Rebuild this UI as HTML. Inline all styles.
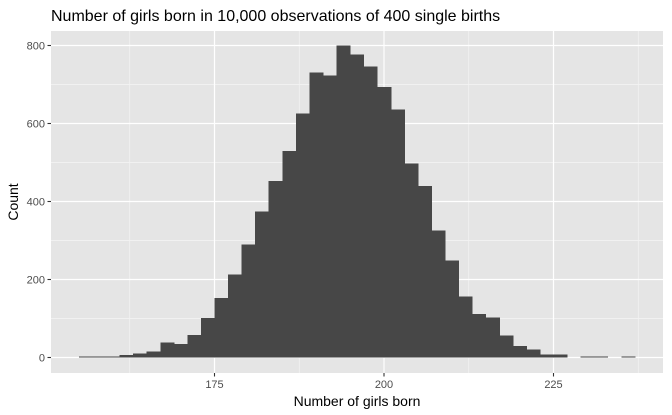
<!DOCTYPE html>
<html><head><meta charset="utf-8"><style>
body{margin:0;background:#fff;font-family:"Liberation Sans",Arial,sans-serif}
svg{display:block}
</style></head><body>
<svg id="chart" width="672" height="415" viewBox="0 0 672 415">
<text x="51" y="21" font-size="16" fill="#000">Number of girls born in 10,000 observations of 400 single births</text>
<rect x="51" y="31" width="612" height="342" fill="#e5e5e5"/>
<g id="grid"></g><g id="bars" shape-rendering="crispEdges"></g><g id="axes"></g>
<text x="357" y="406" font-size="14" text-anchor="middle">Number of girls born</text>
<text transform="translate(18,202) rotate(-90)" font-size="14" text-anchor="middle">Count</text>
</svg>
<script>
const binStarts=[155,157,159,161,163,165,167,169,171,173,175,177,179,181,183,185,187,189,191,193,195,197,199,201,203,205,207,209,211,213,215,217,219,221,223,225,227,229,231,233,235];
const counts=[1,2,2,6,10,15,38,35,58,101,153,213,290,374,453,530,626,731,723,800,777,746,694,636,498,440,326,249,157,112,102,56,30,20,8,8,0,1,1,0,1];
const binWidth=2;
const xTicks=[175,200,225];
const xMinor=[162.5,187.5,212.5,237.5];
const yTicks=[0,200,400,600,800];
const yMinor=[100,300,500,700];
const X=v=>384+(v-200)*6.78;
const Y=v=>357.5-v*0.39;
const NS="http://www.w3.org/2000/svg";
function mk(p,t,a){const e=document.createElementNS(NS,t);for(const k in a)e.setAttribute(k,a[k]);p.appendChild(e);return e;}
const grid=document.getElementById('grid'),bars=document.getElementById('bars'),axes=document.getElementById('axes');
xMinor.forEach(v=>{const l=mk(grid,'line',{x1:X(v),x2:X(v),y1:31,y2:373,stroke:'#f4f4f4','stroke-width':0.7});

});
yMinor.forEach(v=>{const l=mk(grid,'line',{x1:51,x2:663,y1:Y(v),y2:Y(v),stroke:'#f4f4f4','stroke-width':0.7});

});
xTicks.forEach(v=>{const l=mk(grid,'line',{x1:X(v),x2:X(v),y1:31,y2:373,stroke:'#fff','stroke-width':1.2});


const t=mk(axes,'line',{x1:X(v),x2:X(v),y1:373,y2:376.5,stroke:'#333','stroke-width':1.1});


const tx=mk(axes,'text',{x:X(v),y:388,'font-size':11,'text-anchor':'middle',fill:'#4d4d4d'});tx.textContent=v;

});
yTicks.forEach(v=>{const l=mk(grid,'line',{x1:51,x2:663,y1:Y(v),y2:Y(v),stroke:'#fff','stroke-width':1.2});


const t=mk(axes,'line',{x1:47.5,x2:51,y1:Y(v),y2:Y(v),stroke:'#333','stroke-width':1.1});


const tx=mk(axes,'text',{x:45,y:Y(v)+4,'font-size':11,'text-anchor':'end',fill:'#4d4d4d'});tx.textContent=v;

});
binStarts.forEach((s,i)=>{const c=counts[i];if(c<=0)return;
const h=Math.max(Y(0)-Y(c),0.8);
const r=mk(bars,'rect',{x:X(s),y:Y(0)-h,width:X(s+binWidth)-X(s)+0.5,height:h,fill:'#474747'});

});
</script>
</body></html>
